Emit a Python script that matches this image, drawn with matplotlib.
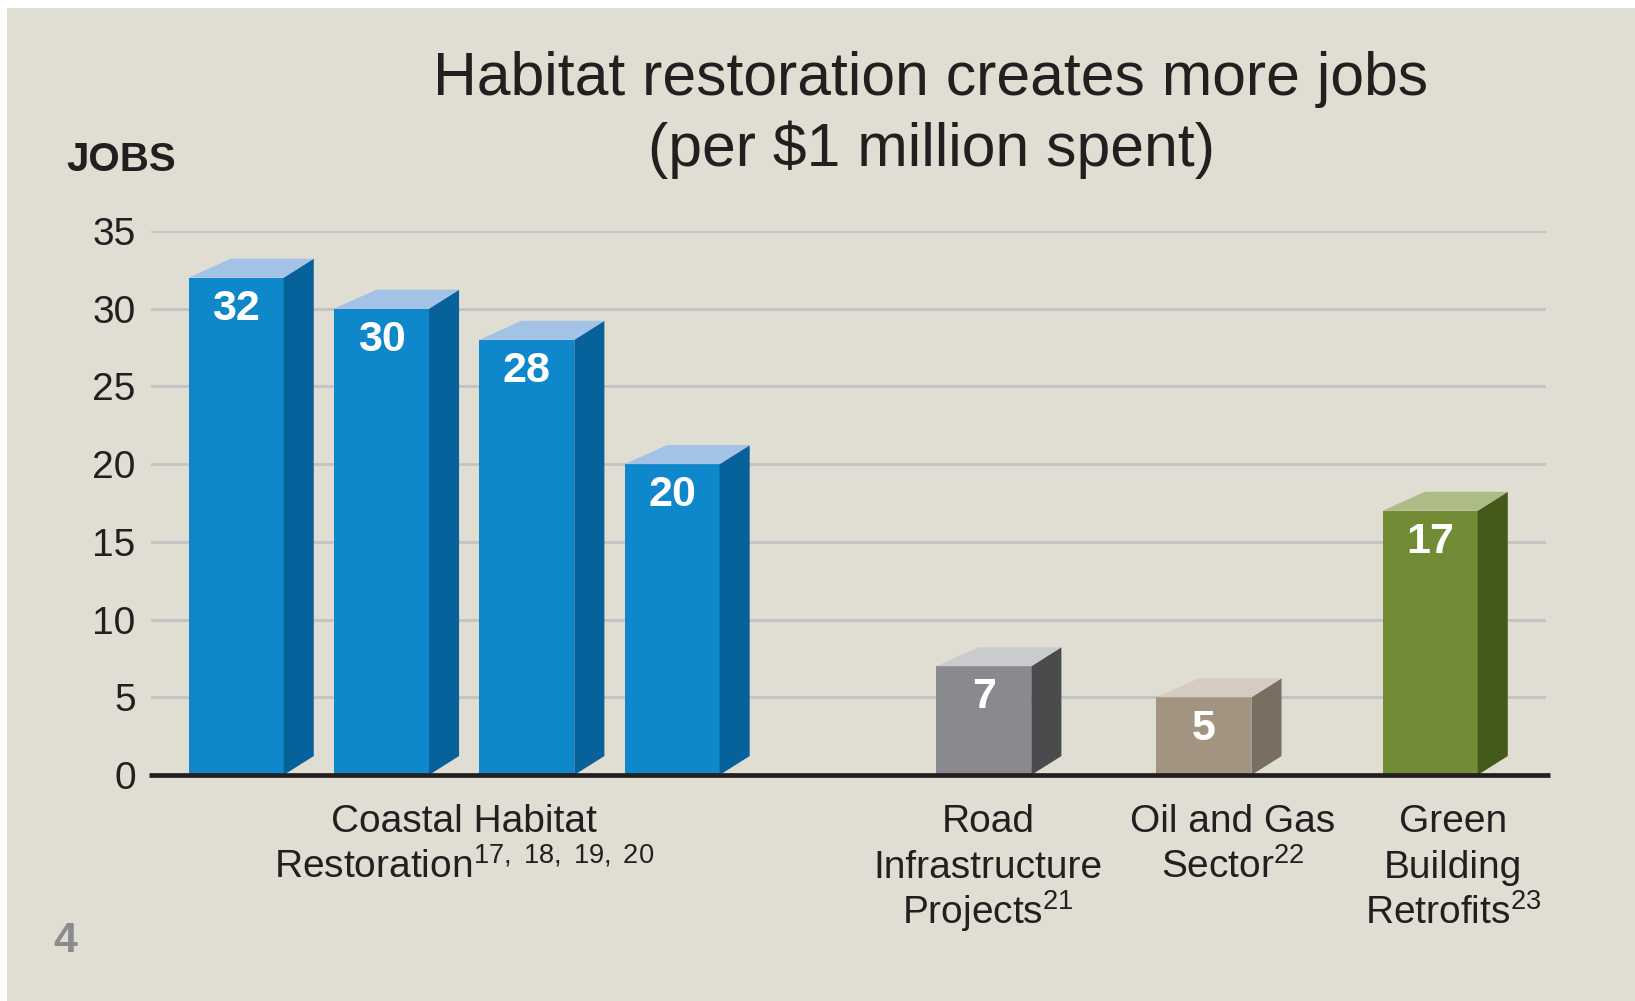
import matplotlib
matplotlib.use("Agg")
import matplotlib.pyplot as plt
from matplotlib.patches import Polygon, Rectangle

# data
values = [32, 30, 28, 20, 7, 5, 17]
positions = [0, 1, 2, 3, 5.145, 6.66, 8.217]
front_colors = ["#0E88CB", "#0E88CB", "#0E88CB", "#0E88CB", "#898A8D", "#A39482", "#728C35"]
side_colors = ["#07619A", "#07619A", "#07619A", "#07619A", "#4A4B4D", "#7A6E60", "#445A1A"]
top_colors = ["#A2C3E6", "#A2C3E6", "#A2C3E6", "#A2C3E6", "#CACBCD", "#D4CCC2", "#ADBB86"]
group_labels = [
    ["Coastal Habitat", "Restoration$^{17,\\ 18,\\ 19,\\ 20}$"],
    ["Road", "Infrastructure", "Projects$^{21}$"],
    ["Oil and Gas", "Sector$^{22}$"],
    ["Green", "Building", "Retrofits$^{23}$"],
]
group_x = [1.568, 5.174, 6.86, 8.374]
yticks = [0, 5, 10, 15, 20, 25, 30, 35]

plt.rcParams["font.family"] = ["Liberation Sans", "DejaVu Sans"]
plt.rcParams["mathtext.fontset"] = "custom"
plt.rcParams["mathtext.rm"] = "Liberation Sans"
plt.rcParams["mathtext.it"] = "Liberation Sans:italic"
plt.rcParams["mathtext.bf"] = "Liberation Sans:bold"
plt.rcParams["mathtext.default"] = "regular"

W, H = 1635, 1001
fig = plt.figure(figsize=(W / 100, H / 100), dpi=100, facecolor="white")
bg = "#E0DDD3"
ink = "#231F20"
fig.patches.append(Rectangle((7 / W, 0), 1, 1 - 8 / H, transform=fig.transFigure,
                             facecolor=bg, edgecolor="none", zorder=-10))

ax_left, ax_right, ax_top, ax_bot = 151, 1546, 231, 775
ax = fig.add_axes([ax_left / W, 1 - ax_bot / H, (ax_right - ax_left) / W, (ax_bot - ax_top) / H])
ax.set_facecolor("none")
ax.set_xlim(-0.586, 9.014)
ax.set_ylim(0, 35)
for s in ax.spines.values():
    s.set_visible(False)
ax.set_xticks([])
ax.set_yticks(yticks)
ax.set_yticklabels([str(t) for t in yticks], fontsize=28, color=ink)
ax.tick_params(axis="y", length=0, pad=11)

for t in yticks[1:]:
    ax.axhline(t, color="#C3C3C4", lw=2.0, zorder=1)
ax.plot([-0.6, 9.04], [0, 0], color=ink, lw=3.4, zorder=5, clip_on=False, solid_capstyle="butt")

w = 0.654
dx_r, dx_l, dy = 0.207, 0.29, 1.22
for x, v, fc, sc, tc in zip(positions, values, front_colors, side_colors, top_colors):
    ax.bar(x, v, width=w, color=fc, zorder=3)
    r = x + w / 2
    l = x - w / 2
    ax.add_patch(Polygon([(r, 0), (r + dx_r, dy), (r + dx_r, v + dy), (r, v)],
                         closed=True, facecolor=sc, edgecolor="none", zorder=3, clip_on=False))
    ax.add_patch(Polygon([(l, v), (l + dx_l, v + dy), (r + dx_r, v + dy), (r, v)],
                         closed=True, facecolor=tc, edgecolor="none", zorder=3, clip_on=False))
    ax.annotate(str(v), (x, v), xytext=(0, -22.5), textcoords="offset points",
                ha="center", va="center", fontsize=31, fontweight="bold", color="white", zorder=6)

# category labels, one text per line so the line pitch stays even
first_base, pitch = -57 * 0.72, 46 * 0.72
for gx, lines in zip(group_x, group_labels):
    for i, line in enumerate(lines):
        ax.annotate(line, (gx, 0), xytext=(0, first_base - i * pitch), textcoords="offset points",
                    ha="center", va="baseline", fontsize=28, color=ink, annotation_clip=False)

fig.text(931 / W, 1 - 115 / H, "Habitat restoration creates more jobs\n(per \\$1 million spent)",
         ha="center", va="center", fontsize=43.7, color=ink, linespacing=1.28)
fig.text(66 / W, 1 - 160 / H, "JOBS", ha="left", va="center", fontsize=29,
         fontweight="bold", color=ink)
fig.text(65 / W, 1 - 941 / H, "4", ha="center", va="center", fontsize=31,
         fontweight="bold", color="#8A8B8E")

fig.savefig("out.png", dpi=100, facecolor=fig.get_facecolor())
